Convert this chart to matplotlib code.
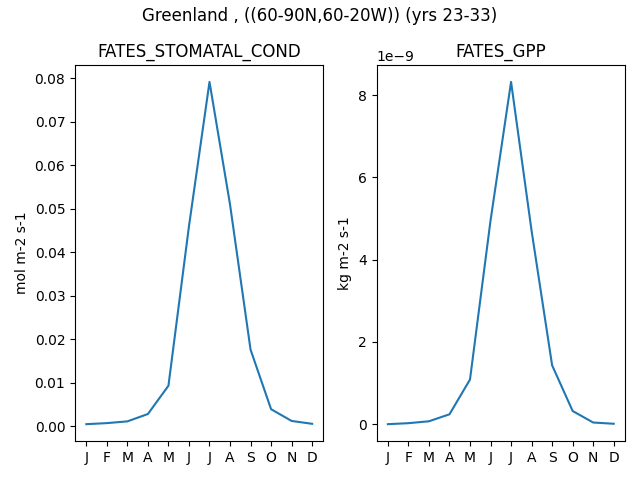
import matplotlib
matplotlib.use("Agg")
import matplotlib.pyplot as plt
import numpy as np

months = ["J", "F", "M", "A", "M", "J", "J", "A", "S", "O", "N", "D"]
stomatal_cond = [0.00046, 0.0007, 0.0011, 0.0028, 0.0093, 0.046,
                 0.0792, 0.051, 0.0176, 0.0039, 0.0012, 0.00054]
gpp = [0.0e-9, 0.024e-9, 0.07e-9, 0.24e-9, 1.085e-9, 4.95e-9,
       8.32e-9, 4.7e-9, 1.43e-9, 0.32e-9, 0.04e-9, 0.01e-9]

titles = ["FATES_STOMATAL_COND", "FATES_GPP"]
units = ["mol m-2 s-1", "kg m-2 s-1"]

fig, axes = plt.subplots(1, 2, figsize=(6.4, 4.8))
x = np.arange(len(months))
for ax, vals, title, unit in zip(axes, [stomatal_cond, gpp], titles, units):
    ax.plot(x, vals)
    ax.set_title(title)
    ax.set_ylabel(unit)
    ax.set_xticks(x)
    ax.set_xticklabels(months)

fig.suptitle("Greenland , ((60-90N,60-20W)) (yrs 23-33)", y=0.985)
fig.tight_layout()
fig.subplots_adjust(top=0.865)
fig.savefig("out.png", dpi=100)
